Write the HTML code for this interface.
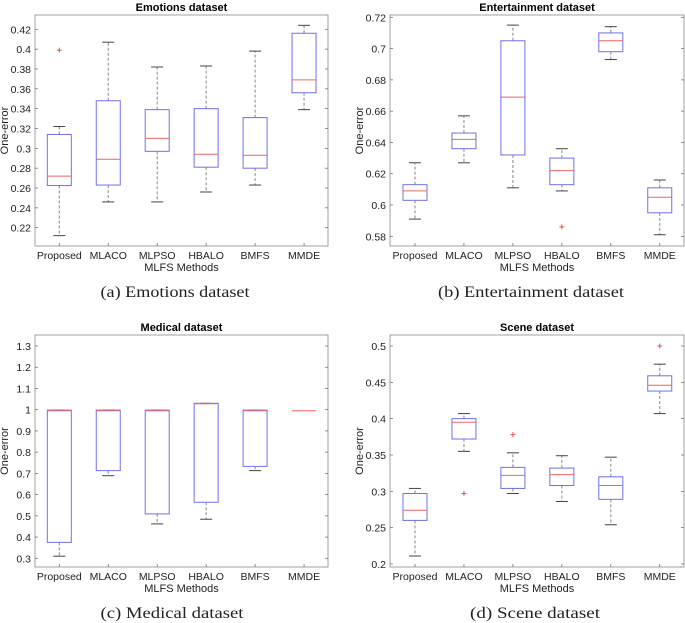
<!DOCTYPE html>
<html><head><meta charset="utf-8"><style>
body{margin:0;background:#fff;width:685px;height:623px;overflow:hidden}
svg{display:block}
</style></head><body>
<svg id="fig" width="685" height="623" xmlns="http://www.w3.org/2000/svg"></svg>
<script>
const categories=["Proposed","MLACO","MLPSO","HBALO","BMFS","MMDE"];
// [lowWhisker, Q1, median, Q3, highWhisker]
const emotionsStats=[[0.212,0.2625,0.272,0.314,0.322],[0.246,0.263,0.289,0.348,0.407],[0.246,0.297,0.310,0.339,0.382],[0.256,0.281,0.294,0.340,0.383],[0.263,0.280,0.293,0.331,0.398],[0.339,0.356,0.369,0.416,0.424]];
const emotionsOutliers=[[0.399],[],[],[],[],[]];
const entStats=[[0.591,0.603,0.609,0.613,0.627],[0.627,0.636,0.642,0.646,0.657],[0.611,0.632,0.669,0.705,0.715],[0.609,0.613,0.622,0.630,0.636],[0.693,0.698,0.705,0.710,0.714],[0.581,0.595,0.605,0.611,0.616]];
const entOutliers=[[],[],[],[0.586],[],[]];
const medStats=[[0.31,0.375,0.995,0.998,0.998],[0.689,0.713,0.995,0.998,0.998],[0.462,0.509,0.995,0.998,0.998],[0.484,0.564,1.028,1.03,1.03],[0.713,0.733,0.995,0.998,0.998],[0.995,0.995,0.995,0.995,0.995]];
const medOutliers=[[],[],[],[],[],[]];
const sceneStats=[[0.211,0.260,0.274,0.297,0.304],[0.355,0.372,0.395,0.400,0.407],[0.297,0.304,0.322,0.333,0.353],[0.286,0.308,0.323,0.332,0.349],[0.254,0.289,0.308,0.320,0.347],[0.407,0.438,0.446,0.459,0.475]];
const sceneOutliers=[[],[0.297],[0.378],[],[],[0.5]];
const emotionsTicks=[0.22,0.24,0.26,0.28,0.3,0.32,0.34,0.36,0.38,0.4,0.42];
const entTicks=[0.58,0.6,0.62,0.64,0.66,0.68,0.7,0.72];
const medTicks=[0.3,0.4,0.5,0.6,0.7,0.8,0.9,1,1.1,1.2,1.3];
const sceneTicks=[0.2,0.25,0.3,0.35,0.4,0.45,0.5];

const NS="http://www.w3.org/2000/svg";
const fig=document.getElementById('fig');
function mk(tag,attrs,parent,text){const e=document.createElementNS(NS,tag);for(const k in attrs)e.setAttribute(k,attrs[k]);if(text!==undefined)e.textContent=text;(parent||fig).appendChild(e);return e;}

const panels=[
 {key:"emotions",title:"Emotions dataset",cap:"(a) Emotions dataset",L:35,R:328,T:15,B:246,v0:0.22,p0:227.7,v1:0.42,p1:29.3,c0:59.3,stats:emotionsStats,out:emotionsOutliers,ticks:emotionsTicks,capY:297,capX:175,capW:149},
 {key:"entertainment",title:"Entertainment dataset",cap:"(b) Entertainment dataset",L:390,R:684,T:15,B:246,v0:0.58,p0:236.3,v1:0.72,p1:17.3,c0:415,stats:entStats,out:entOutliers,ticks:entTicks,capY:297,capX:531,capW:186},
 {key:"medical",title:"Medical dataset",cap:"(c) Medical dataset",L:35,R:328,T:335,B:567,v0:0.3,p0:558.3,v1:1.3,p1:346,c0:59.3,stats:medStats,out:medOutliers,ticks:medTicks,capY:618,capX:172,capW:143},
 {key:"scene",title:"Scene dataset",cap:"(d) Scene dataset",L:390,R:684,T:335,B:567,v0:0.2,p0:564,v1:0.5,p1:346,c0:415,stats:sceneStats,out:sceneOutliers,ticks:sceneTicks,capY:618,capX:535,capW:130}
];
const sp=48.95, bw=24, cw=12;
const sans='"Liberation Sans", Arial, sans-serif';
panels.forEach(p=>{
 const g=mk('g',{});
 
 
 const y=v=>p.p0+(v-p.v0)*(p.p1-p.p0)/(p.v1-p.v0);
 const x=i=>p.c0+i*sp;
 const frame=mk('rect',{x:p.L,y:p.T,width:p.R-p.L,height:p.B-p.T,fill:'none',stroke:'#8a8a8a','stroke-width':0.8},g);
 
 
 const t=mk('text',{x:(p.L+p.R)/2,y:p.T-4,'text-anchor':'middle','font-family':sans,'font-size':11,'font-weight':'bold',fill:'#000'},g,p.title);
 
 
 p.ticks.forEach(v=>{
  const yy=y(v);
  mk('line',{x1:p.L,x2:p.L+3,y1:yy,y2:yy,stroke:'#666','stroke-width':0.7},g);
  mk('line',{x1:p.R,x2:p.R-3,y1:yy,y2:yy,stroke:'#666','stroke-width':0.7},g);
  const tl=mk('text',{x:p.L-4,y:yy+4,'text-anchor':'end','font-family':sans,'font-size':10.5,fill:'#222'},g,String(v));
  
  
 });
 const yl=mk('text',{transform:`translate(${p.L-27},${(p.T+p.B)/2}) rotate(-90)`,'text-anchor':'middle','font-family':sans,'font-size':11,fill:'#222'},g,'One-error');
 
 
 const xl=mk('text',{x:(p.L+p.R)/2,y:p.B+25,'text-anchor':'middle','font-family':sans,'font-size':11,fill:'#222'},g,'MLFS Methods');
 
 
 const cp=mk('text',{x:p.capX,y:p.capY,'text-anchor':'middle','font-family':'"Liberation Serif", serif','font-size':16,fill:'#222',textLength:p.capW,lengthAdjust:'spacingAndGlyphs'},g,p.cap);
 
 
 categories.forEach((c,i)=>{
  const cx=x(i);
  mk('line',{x1:cx,x2:cx,y1:p.B,y2:p.B-3,stroke:'#666','stroke-width':0.7},g);
  const xt=mk('text',{x:cx,y:p.B+13,'text-anchor':'middle','font-family':sans,'font-size':10.5,fill:'#222'},g,c);
  
  
  const s=p.stats[i];
  const bg=mk('g',{},g);
  
  
  if(s[4]>s[3]+0.0001){mk('line',{x1:cx,x2:cx,y1:y(s[3]),y2:y(s[4]),stroke:'#888','stroke-width':1,'stroke-dasharray':'3,2'},bg);}
  if(s[1]>s[0]+0.0001){mk('line',{x1:cx,x2:cx,y1:y(s[1]),y2:y(s[0]),stroke:'#888','stroke-width':1,'stroke-dasharray':'3,2'},bg);}
  if(s[4]-s[0]>0.001){
   mk('line',{x1:cx-cw/2,x2:cx+cw/2,y1:y(s[4]),y2:y(s[4]),stroke:'#444','stroke-width':1},bg);
   mk('line',{x1:cx-cw/2,x2:cx+cw/2,y1:y(s[0]),y2:y(s[0]),stroke:'#444','stroke-width':1},bg);
   mk('rect',{x:cx-bw/2,y:y(s[3]),width:bw,height:Math.max(0.5,y(s[1])-y(s[3])),fill:'none',stroke:'#7070ee','stroke-width':1},bg);
  }
  mk('line',{x1:cx-bw/2,x2:cx+bw/2,y1:y(s[2]),y2:y(s[2]),stroke:'#ee6666','stroke-width':1},bg);
  p.out[i].forEach(o=>{
   const oy=y(o);
   const og=mk('g',{},bg);
   
   
   mk('line',{x1:cx-2.5,x2:cx+2.5,y1:oy,y2:oy,stroke:'#e04444','stroke-width':0.9},og);
   mk('line',{x1:cx,x2:cx,y1:oy-2.5,y2:oy+2.5,stroke:'#e04444','stroke-width':0.9},og);
  });
 });
});
</script>
</body></html>
